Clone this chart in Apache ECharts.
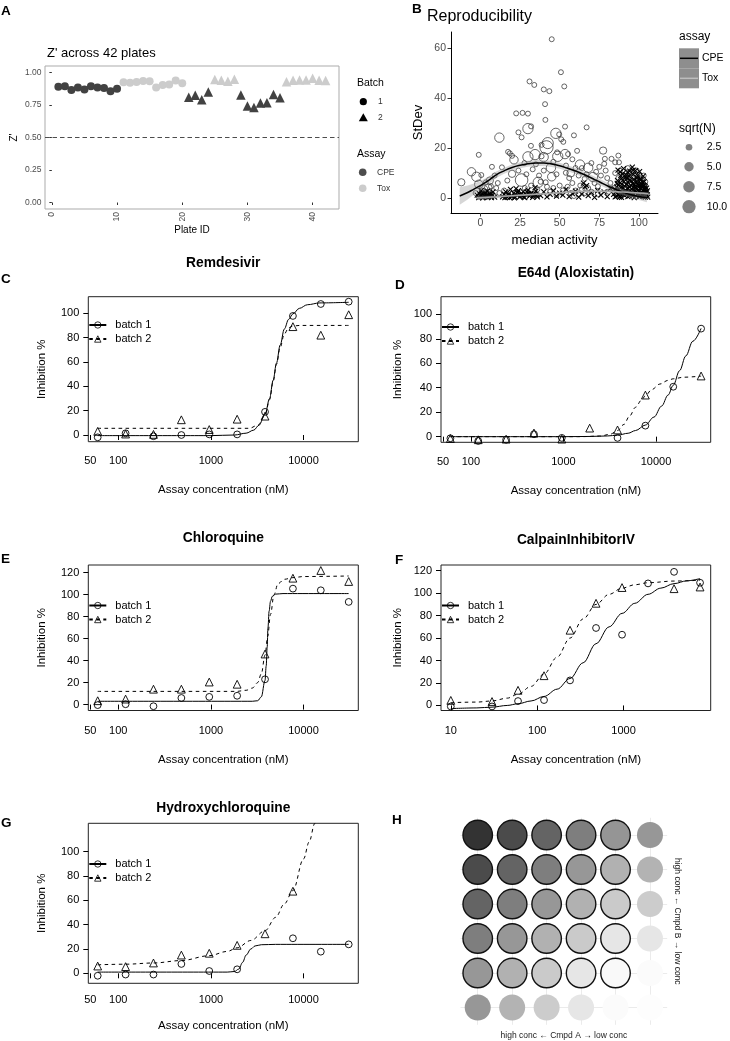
<!DOCTYPE html>
<html><head><meta charset="utf-8">
<script src="https://cdn.jsdelivr.net/npm/echarts@6.0.0/dist/echarts.min.js"></script>
<style>html,body{margin:0;padding:0;background:#fff}#c{width:730px;height:1041px}</style>
</head><body><div id="c"></div>
<script>
const FONT = "'Liberation Sans', Arial, Helvetica, sans-serif";

// ---------------- Panel A data ----------------
const plateId = [1,2,3,4,5,6,7,8,9,10,11,12,13,14,15,16,17,18,19,20,21,22,23,24,25,26,27,28,29,30,31,32,33,34,35,36,37,38,39,40,41,42];
const zPrime = [0.89,0.895,0.865,0.885,0.87,0.895,0.885,0.88,0.855,0.875,
  0.925,0.922,0.927,0.934,0.932,0.885,0.903,0.907,0.939,0.917,
  0.81,0.825,0.79,0.85, 0.947,0.94,0.932,0.948,
  0.827,0.742,0.731,0.765,0.768,0.83,0.806,
  0.928,0.94,0.942,0.942,0.955,0.94,0.938];
const plateBatch = [1,1,1,1,1,1,1,1,1,1,1,1,1,1,1,1,1,1,1,1,2,2,2,2,2,2,2,2,2,2,2,2,2,2,2,2,2,2,2,2,2,2];
const plateAssay = ['CPE','CPE','CPE','CPE','CPE','CPE','CPE','CPE','CPE','CPE',
  'Tox','Tox','Tox','Tox','Tox','Tox','Tox','Tox','Tox','Tox',
  'CPE','CPE','CPE','CPE','Tox','Tox','Tox','Tox',
  'CPE','CPE','CPE','CPE','CPE','CPE','CPE',
  'Tox','Tox','Tox','Tox','Tox','Tox','Tox'];
const zTicks = [0, 0.25, 0.5, 0.75, 1];
const plateTicks = [0, 10, 20, 30, 40];
const zThreshold = 0.5;

// ---------------- Panel B data ----------------
// CPE replicate points: [median activity, StDev, sqrt(N)]
const cpePoints = [
 [-12,6.3,3],[-5.6,10.5,4],[-2.5,8.5,5],[-1,5.5,4],[2,3.5,4],[5,4,3.5],[12,24.2,5],[26,7.2,9],[30,27.8,6],[47.6,25.9,6],
 [42.5,22,7],[41.7,20.3,10],[48.8,16.7,6],[34.5,17.4,6],[30,16.5,6],[21.2,15.3,4],[39.9,16.4,5],[44.5,12.1,5],[53.4,17.6,5],[62.8,13.4,5],
 [68,12.1,5],[71,8.4,5],[36.5,6.3,6],[45,8.5,4],[57,10,3.5],[77.4,19,3],[20,9.7,3],[6,7,3],
 [45,63.6,1.4],[50.8,50.4,1.4],[52.9,44.7,1.4],[31,46.7,1.4],[34,45.3,1.4],[40,43.5,1.4],[43.5,42.8,1.4],[40.8,37.6,1.4],[41,31.3,1.4],[53.4,28.6,1.4],
 [67,28.3,1.4],[22.6,33.9,1.4],[26.6,34.1,1.4],[30,33.8,1.4],[24,26.3,1.4],[32,28.7,1.4],[26,24.3,1.4],[-1,17.3,1.4],[18.6,17.9,1.4],[20,16.9,1.4],
 [17.5,18.5,1.4],[49.7,25.5,1.4],[51,23.5,1.4],[52.3,22.5,1.4],[59,25.1,1.4],[61,18.9,1.4],[48.4,18.3,1.4],[55.3,17.6,1.4],[38.6,21.3,1.4],[31.9,20.9,1.4],
 [38.6,16.7,1.4],[27.8,14,1.4],[78.1,13.7,1.4],[82.7,15.7,1.4],[87,17,1.4],[85,14.3,1.4],[87.4,14.3,1.4],[78.5,15.7,1.4],[75,12.5,1.4],[99,8.4,1.4],
 [98.6,11,1.4],[95,10,1.4],[93,12,1.4],[0.6,9.2,1.4],[3.5,6.3,1.4],[6.7,4.7,1.4],[7.3,12.5,1.4],[13.6,12.3,1.4],[24,11,1.4],[33,11.5,1.4],
 [37,9,1.4],[41.2,6.3,1.4],[48,9.5,1.4],[50,5,1.4],[53.9,10.1,1.4],[56,8,1.4],[58,6,1.4],[60,12,1.4],[63,5,1.4],[65.8,7.7,1.4],
 [67,9.5,1.4],[74.1,4.7,1.4],[72,6,1.4],[80,8,1.4],[82,6,1.4],[85,10,1.4],[88,11,1.4],[90,9,1.4],[92,7,1.4],[96,8.5,1.4],
 [100,9.5,1.4],[102,7,1.4],[104,5,1.4],[28,4,1.4],[32,5,1.4],[36,3.5,1.4],[38,6.5,1.4],[42,4.5,1.4],[44,2.5,1.4],[46,4,1.4],
 [52,3,1.4],[55,4.5,1.4],[57,2,1.4],[60,3,1.4],[62,1.5,1.4],[64,3.5,1.4],[66,2,1.4],[68,4,1.4],[70,2.5,1.4],[15,3,1.4],
 [12,2,1.4],[10,4,1.4],[8,1,1.4],[5,2.5,1.4],[2,1.5,1.4],[1,3,1.4],[-1,0.5,1.4],[35,13.5,1.4],[46,14.5,1.4],[58,15.5,1.4],
 [64,12,1.4],[70,14,1.4],[73,10.5,1.4],[76,9,1.4],[79,11,1.4],[62,9,1.4],[54,13,1.4],[40,11,1.4],[29,9.5,1.4],[17,7,1.4],
 [11,6,1.4],[9,9,1.4],[-3,2,1.4],[0,1,1.4],[4,0.5,1.4],[16,1.2,1.4],[22,2.2,1.4],[26,1,1.4],[34,1.8,1.4],[48,1.2,1.4],
 [59,0.8,1.4],[74,1.5,1.4],[81,2.5,1.4],[84,4,1.4],[97,3,1.4],[103,2,1.4],[86,3,1.4],[88,5,1.4],[90,2,1.4],[92,4,1.4],
 [94,6,1.4],[96,3,1.4],[98,5,1.4],[100,1.5,1.4],[102,3.5,1.4],[104,6.5,1.4],[87,8,1.4],[91,7,1.4],[95,9,1.4],[99,7,1.4],[103,9,1.4]
];
// Tox replicate points: [median activity, StDev]
const toxPoints = [
 [-1,0.2],[0,0.8],[1,1.5],[2,0.3],[3,2.2],[4,1],[5,0.5],[6,1.8],[7,0.2],[8,2.5],[0.5,3],[2.5,1.2],[4.5,2.8],[6.5,0.8],
 [-0.5,1.8],[1.5,0.1],[3.5,0.6],[5.5,1.4],[7.5,1.1],[9,0.4],[-2,1.2],
 [14,0.5],[15,1.5],[16,2.5],[17,0.3],[18,1.8],[19,3.5],[20,0.8],[21,2],[22,0.4],[23,1.2],[24,3],[25,0.6],[26,1.8],[27,2.6],
 [28,0.2],[29,1.4],[30,3.2],[31,0.8],[32,2],[33,0.3],[34,1.6],[35,2.8],[36,0.5],[18.5,0.2],[22.5,3.8],[26.5,0.9],[30.5,1.9],[34.5,4.2],
 [15.5,0.2],[17.5,1.1],[19.5,0.6],[21.5,0.1],[23.5,2.3],[25.5,1.4],[27.5,0.4],[29.5,2.4],[31.5,1.3],[33.5,0.9],[35.5,1.2],
 [38,1],[40,2.5],[42,0.5],[44,1.5],[46,3],[48,0.8],[50,2],[52,1.2],[54,3.5],[56,0.6],[58,1.8],[60,2.8],[62,0.4],[64,1.6],
 [66,4.5],[68,1],[70,2.2],[72,0.3],[74,3],[76,1.2],[78,2.5],[80,0.6],[82,3.8],[84,1.5],[65,6],[67,5],
 [85,0.5],[85.5,2.5],[86,4.5],[86.5,7],[87,1.2],[87.5,3.5],[88,6],[88.5,9],[89,0.3],[89.5,2],[90,4],[90.5,6.5],[91,1],[91.5,3],
 [92,5.5],[92.5,8],[93,0.6],[93.5,2.4],[94,4.6],[94.5,7.2],[95,1.4],[95.5,3.6],[96,5.8],[96.5,9.5],[97,0.2],[97.5,2.8],[98,4.2],[98.5,6.8],
 [99,1.6],[99.5,3.2],[100,5.2],[100.5,7.6],[101,0.8],[101.5,2.2],[102,4.4],[102.5,6.2],[103,1.8],[103.5,3.8],[104,0.4],[104.5,2.6],[105,1.2],
 [86,0.8],[88,2.2],[90,1.6],[92,2.8],[94,0.9],[96,2],[98,1],[100,2.6],[102,1.4],[104,3.2],[87,5.2],[89,7.8],[91,4.8],[93,6.4],
 [95,5],[97,7.4],[99,5.6],[101,6],[103,5],[88.2,10.5],[90.3,11.8],[94.2,10.8],[97.8,11],[91.7,9.4],[99.2,9],[102.7,8.8],[86.8,11.2],[95.8,12.4],
 [85.2,3.4],[86.3,5.9],[87.8,0.4],[88.7,4.1],[89.3,5.6],[90.8,2.8],[91.3,8.2],[92.2,1.6],[93.2,3.9],[93.8,8.8],[94.7,2.1],[95.2,6.8],
 [96.2,1.1],[96.8,4.3],[97.3,5.4],[98.3,2.5],[98.8,8.1],[99.7,4.3],[100.2,0.6],[100.8,3.9],[101.3,7.4],[101.8,5.1],[102.3,0.9],[102.8,3],
 [103.3,6.6],[103.8,4.6],[104.3,1.8],[104.8,4],[105.3,2.9],[105.5,0.4],[89.8,9.8],[92.8,10.4],[96.3,11.2],[100.4,10.6]
];
// smooth fits
const cpeFitX = [-13,-8,-4,0,5,10,15,20,25,30,35,40,45,50,55,60,65,70,75,80,85,90,95,100,105];
const cpeFit  = [0.8,2.2,3.6,5.0,7.0,9.3,10.9,12.2,13.1,13.7,14.0,14.0,13.6,12.9,11.9,10.8,9.5,8.0,6.5,4.9,3.6,2.3,1.3,0.6,0.1];
const cpeLo   = [-2.7,-0.6,1.4,3.2,5.5,8.0,9.7,11.0,11.9,12.5,12.8,12.8,12.4,11.7,10.7,9.6,8.3,6.8,5.3,3.7,2.4,1.1,0.1,-0.8,-1.7];
const cpeHi   = [4.3,5.0,5.8,6.8,8.5,10.6,12.1,13.4,14.3,14.9,15.2,15.2,14.8,14.1,13.1,12.0,10.7,9.2,7.7,6.1,4.8,3.5,2.5,2.0,1.9];
const toxFitX = [-2,5,10,20,30,40,50,60,70,80,90,100,106];
const toxFit  = [0.0,0.3,0.5,0.9,1.3,1.7,2.1,2.5,2.7,2.7,2.4,2.0,1.7];
const toxLo   = [-0.8,-0.3,0.0,0.5,0.9,1.3,1.7,2.1,2.3,2.3,2.1,1.7,1.2];
const toxHi   = [0.8,0.9,1.0,1.3,1.7,2.1,2.5,2.9,3.1,3.1,2.7,2.3,2.2];
const activityTicks = [0, 25, 50, 75, 100];
const stdevTicks = [0, 20, 40, 60];
const sqrtNKeys = [2.5, 5.0, 7.5, 10.0];

// ---------------- Panels C-G data ----------------
const concStd  = [60,120,240,480,960,1920,3840,7680,15360,30720];
const concCalp = [10,30,60,120,240,480,960,1920,3840,7680];
const remB1 = [-1.9,1.4,-1,0,0.5,0.5,19,97.8,107.6,109.5];
const remB2 = [3,0.8,0.5,12.5,4.5,13,15.5,89,82,98.8];
const e64B1 = [-1.3,-3.5,-2.5,2,-1,null,-1,9,40.8,88.3];
const e64B2 = [-1.5,-2.5,-2,3,-2,7,5.5,34,null,49.6];
const chlB1 = [-0.5,0.3,-1.5,6,7,8,23,105.5,104,93.4];
const chlB2 = [3.5,5,14,14,20.5,18.5,46,115,122,112];
const calB1 = [-0.9,-0.9,3.9,4.8,22.3,69,63,108.7,119,109.3];
const calB2 = [4.5,3.5,13.5,26.5,67,91,105,null,104,105.5];
const hcqB1 = [-2,-1,-1,7.7,1.9,3.3,null,28.8,17.8,23.8];
const hcqB2 = [6,5.5,8.5,15,16.5,23,32.5,67.5,null,null];

const remFit1 = [[60,-0.5],[1000,-0.5],[1800,0],[2400,1.5],[2900,4],[3300,8],[3840,17],[4300,30],[4700,45],[5100,59],[5600,74],[6200,87],[6900,95],[7680,99.5],[9000,104],[11000,107],[15000,108.5],[30720,109]];
const remFit2 = [[60,5.5],[2600,5.5],[3200,8],[3840,16],[4300,29],[4700,44],[5100,58],[5600,72],[6200,83],[6900,88],[7680,89.5],[9000,90],[30720,90]];
const e64Fit1 = [[60,0],[1000,0],[2000,0.2],[3000,0.6],[3840,1.2],[5000,2.8],[6000,5],[7680,9.5],[9500,16],[11500,25],[13500,34],[15360,42],[18000,54],[21000,66],[25000,78],[30720,88.5]];
const e64Fit2 = [[60,0],[1500,0],[2500,0.5],[3200,2],[3840,5],[4500,10],[5200,17],[6000,24],[7000,30],[7680,33.5],[9000,38.5],[11000,43],[13500,46],[15360,47.3],[20000,48.6],[30720,49.5]];
const chlFit1 = [[60,3],[2800,3],[3200,3.5],[3500,7],[3840,22],[3950,35],[4050,52],[4130,70],[4250,85],[4400,94],[4600,98.5],[5000,100.5],[6000,101],[30720,101]];
const chlFit2 = [[60,12],[1900,12],[2400,13],[2800,15],[3200,20],[3500,28],[3840,45],[4100,62],[4400,82],[4800,100],[5300,110],[6200,114],[7680,115.5],[10000,116.5],[30720,117]];
const calFit1 = [[10,-2.8],[20,-2.2],[30,-1.5],[45,0],[60,1.5],[85,4],[120,8],[170,14.5],[240,24],[340,38],[480,55],[680,70],[960,82],[1350,91],[1920,99],[2700,104.5],[3840,108.5],[5400,111],[7680,113]];
const calFit2 = [[10,2.5],[20,3],[30,4],[45,6.5],[60,10],[85,17],[120,28],[170,43],[240,60],[340,77],[480,90],[680,99],[960,104.5],[1350,107.5],[1920,109.3],[3840,110.8],[7680,111.5]];
const hcqFit1 = [[60,1],[1500,1],[1800,1.5],[2000,3.5],[2200,9],[2400,15],[2700,20],[3000,22.5],[3500,23.5],[5000,23.8],[30720,23.8]];
const hcqFit2 = [[60,7],[120,7.5],[240,8.5],[480,10.5],[960,14.5],[1500,18],[1920,21],[2700,27],[3840,35],[5000,46],[6200,57],[7680,68],[10000,94],[11500,108],[13200,123],[14000,130]];
const concTicksStd = [50, 100, 1000, 10000];
const concTicksCalp = [10, 100, 1000];
const inhTicks100 = [0, 20, 40, 60, 80, 100];
const inhTicks120 = [0, 20, 40, 60, 80, 100, 120];

// ---------------- Panel H data (combination matrix, % effect) ----------------
const comboEffect = [
 [96,85,73,61,50,49],
 [85,73,61,49,37,36],
 [73,61,49,37,25,24],
 [61,49,37,25,12,12],
 [49,37,25,12,3,2],
 [49,36,24,12,2,1]
];

// ================= build =================
const grids = [
 {left:45, top:66, width:294, height:143, show:true, borderColor:'#ababab', borderWidth:1},   // A
 {left:451, top:32, width:207, height:181},                                                   // B
 {left:88.3, top:296.7, width:270, height:145, show:true, borderColor:'#222', borderWidth:1}, // C
 {left:441, top:296.7, width:269.7, height:145.6, show:true, borderColor:'#222', borderWidth:1}, // D
 {left:88.3, top:565, width:270, height:145.5, show:true, borderColor:'#222', borderWidth:1}, // E
 {left:441, top:565, width:269.7, height:145.5, show:true, borderColor:'#222', borderWidth:1}, // F
 {left:88.3, top:823.3, width:270, height:160, show:true, borderColor:'#222', borderWidth:1}, // G
 {left:460.5, top:817.8, width:206.7, height:207}                                            // H
];
const xAxes = [], yAxes = [], series = [], legends = [];

// ---- A
xAxes.push({gridIndex:0, type:'value', min:-1.05, max:44.05,
  axisLine:{show:false}, splitLine:{show:false},
  axisTick:{show:true, length:2.5, lineStyle:{color:'#333'}, customValues:plateTicks},
  axisLabel:{customValues:plateTicks, rotate:90, margin:3, color:'#4d4d4d', fontSize:8.5, fontFamily:FONT},
  name:'Plate ID', nameLocation:'middle', nameGap:16, nameTextStyle:{fontSize:10, fontFamily:FONT, color:'#000'}});
yAxes.push({gridIndex:0, type:'value', min:-0.05, max:1.05,
  axisLine:{show:false}, splitLine:{show:false},
  axisTick:{show:true, length:2.5, lineStyle:{color:'#333'}, customValues:zTicks},
  axisLabel:{customValues:zTicks, margin:3.5, color:'#4d4d4d', fontSize:8.5, fontFamily:FONT, formatter:v=>v.toFixed(2)},
  name:"Z'", nameLocation:'middle', nameRotate:90, nameGap:26, nameTextStyle:{fontSize:10, fontFamily:FONT, color:'#000'}});
[[1,'CPE'],[1,'Tox'],[2,'CPE'],[2,'Tox']].forEach(([b,a], k) => {
  const data = [];
  plateId.forEach((p,i) => { if (plateBatch[i]===b && plateAssay[i]===a) data.push([p, zPrime[i]]); });
  const s = {type:'scatter', xAxisIndex:0, yAxisIndex:0, data, silent:true,
    symbol: b===1 ? 'circle' : 'triangle', symbolSize: b===1 ? 8 : 9.5,
    itemStyle:{color: a==='CPE' ? '#424242' : '#cccccc', opacity:1}};
  if (k===0) s.markLine = {silent:true, symbol:['none','none'], label:{show:false},
    lineStyle:{color:'#4d4d4d', type:[4.5,3], width:1.2}, data:[{yAxis:zThreshold}]};
  series.push(s);
});

// ---- B
const sizeOf = v => 4.2*Math.sqrt(v);
xAxes.push({gridIndex:1, type:'value', min:-18.5, max:112,
  axisLine:{show:true, onZero:false, lineStyle:{color:'#000', width:1}}, splitLine:{show:false},
  axisTick:{show:true, length:3.5, lineStyle:{color:'#333'}, customValues:activityTicks},
  axisLabel:{customValues:activityTicks, margin:5, color:'#4d4d4d', fontSize:10.5, fontFamily:FONT},
  name:'median activity', nameLocation:'middle', nameGap:21, nameTextStyle:{fontSize:13, fontFamily:FONT, color:'#000'}});
yAxes.push({gridIndex:1, type:'value', min:-6, max:66.5,
  axisLine:{show:true, onZero:false, lineStyle:{color:'#000', width:1}}, splitLine:{show:false},
  axisTick:{show:true, length:3.5, lineStyle:{color:'#333'}, customValues:stdevTicks},
  axisLabel:{customValues:stdevTicks, margin:5, color:'#4d4d4d', fontSize:10.5, fontFamily:FONT},
  name:'StDev', nameLocation:'middle', nameRotate:90, nameGap:26, nameTextStyle:{fontSize:13, fontFamily:FONT, color:'#000'}});
series.push({type:'scatter', xAxisIndex:1, yAxisIndex:1, silent:true, data:cpePoints,
  symbol:'circle', symbolSize: v => sizeOf(v[2]),
  itemStyle:{color:'rgba(0,0,0,0)', borderColor:'#333', borderWidth:0.75, opacity:1}});
series.push({type:'scatter', xAxisIndex:1, yAxisIndex:1, silent:true, data:toxPoints,
  symbol:'path://M0,0L10,10M10,0L0,10', symbolSize:5,
  itemStyle:{color:'rgba(0,0,0,0)', borderColor:'#000', borderWidth:1.1, opacity:1}});
function ribbon(xs, lo, hi) {
  series.push({type:'custom', xAxisIndex:1, yAxisIndex:1, silent:true, z:3,
    data: xs.map((x,i)=>[x, lo[i], hi[i]]), encode:{x:0, y:[1,2]},
    renderItem: (params, api) => {
      if (params.dataIndex !== 0) return null;
      const pts = [];
      for (let i = 0; i < xs.length; i++) pts.push(api.coord([xs[i], hi[i]]));
      for (let i = xs.length-1; i >= 0; i--) pts.push(api.coord([xs[i], lo[i]]));
      return {type:'polygon', shape:{points:pts}, style:{fill:'rgba(153,153,153,0.4)'}};
    }});
}
ribbon(cpeFitX, cpeLo, cpeHi);
ribbon(toxFitX, toxLo, toxHi);
series.push({type:'line', xAxisIndex:1, yAxisIndex:1, silent:true, z:4, data:cpeFitX.map((x,i)=>[x,cpeFit[i]]),
  symbol:'none', smooth:true, lineStyle:{color:'#000', width:1.5}});
series.push({type:'line', xAxisIndex:1, yAxisIndex:1, silent:true, z:4, data:toxFitX.map((x,i)=>[x,toxFit[i]]),
  symbol:'none', smooth:true, lineStyle:{color:'#a8a8a8', width:1.5}});

// ---- C-G (base R style dose-response panels)
const panels = [
 {g:2, conc:concStd,  b1:remB1, b2:remB2, f1:remFit1, f2:remFit2, xmin:47.5, xmax:39000, xt:concTicksStd,  ymin:-5.5, ymax:113.6, yt:inhTicks100, yGap:40, xGap:42.5, lm:14, legTop:319.5},
 {g:3, conc:concStd,  b1:e64B1, b2:e64B2, f1:e64Fit1, f2:e64Fit2, xmin:47.5, xmax:39000, xt:concTicksStd,  ymin:-4.6, ymax:114.4, yt:inhTicks100, yGap:37, xGap:42.5, lm:14, legTop:321.5},
 {g:4, conc:concStd,  b1:chlB1, b2:chlB2, f1:chlFit1, f2:chlFit2, xmin:47.5, xmax:39000, xt:concTicksStd,  ymin:-5.4, ymax:127,   yt:inhTicks120, yGap:40, xGap:43.5, lm:15, legTop:600},
 {g:5, conc:concCalp, b1:calB1, b2:calB2, f1:calFit1, f2:calFit2, xmin:7.7,  xmax:10200, xt:concTicksCalp, ymin:-4.5, ymax:125.1, yt:inhTicks120, yGap:37, xGap:43.5, lm:15, legTop:600},
 {g:6, conc:concStd,  b1:hcqB1, b2:hcqB2, f1:hcqFit1, f2:hcqFit2, xmin:47.5, xmax:39000, xt:concTicksStd,  ymin:-8.2, ymax:123.3, yt:inhTicks100, yGap:40, xGap:37,   lm:11, legTop:858.5}
];
const ptStyle = {color:'rgba(0,0,0,0)', borderColor:'#000', borderWidth:0.9, opacity:1};
panels.forEach(p => {
  xAxes.push({gridIndex:p.g, type:'log', logBase:10, min:p.xmin, max:p.xmax,
    axisLine:{show:false}, splitLine:{show:false}, minorTick:{show:false},
    axisTick:{show:true, length:5, lineStyle:{color:'#000'}, customValues:p.xt},
    axisLabel:{customValues:p.xt, margin:p.lm, color:'#000', fontSize:11, fontFamily:FONT, formatter:v=>String(Math.round(v))},
    name:'Assay concentration (nM)', nameLocation:'middle', nameGap:p.xGap, nameTextStyle:{fontSize:11.5, fontFamily:FONT, color:'#000'}});
  yAxes.push({gridIndex:p.g, type:'value', min:p.ymin, max:p.ymax,
    axisLine:{show:false}, splitLine:{show:false},
    axisTick:{show:true, length:5, lineStyle:{color:'#000'}, customValues:p.yt},
    axisLabel:{customValues:p.yt, margin:9, color:'#000', fontSize:11, fontFamily:FONT},
    name:'Inhibition %', nameLocation:'middle', nameRotate:90, nameGap:p.yGap, nameTextStyle:{fontSize:11.5, fontFamily:FONT, color:'#000'}});
  const pts1 = [], pts2 = [];
  p.conc.forEach((c,i) => { if (p.b1[i] !== null) pts1.push([c, p.b1[i]]); if (p.b2[i] !== null) pts2.push([c, p.b2[i]]); });
  series.push({type:'scatter', xAxisIndex:p.g, yAxisIndex:p.g, silent:true, data:pts1, symbol:'circle', symbolSize:6.8, itemStyle:ptStyle});
  series.push({type:'scatter', xAxisIndex:p.g, yAxisIndex:p.g, silent:true, data:pts2, symbol:'triangle', symbolSize:7.8, itemStyle:ptStyle});
  series.push({type:'line', name:'batch 1', xAxisIndex:p.g, yAxisIndex:p.g, silent:true, data:p.f1, smooth:0.35, smoothMonotone:'x',
    symbol:'circle', showSymbol:false, itemStyle:ptStyle, lineStyle:{color:'#000', width:1}, clip:true});
  series.push({type:'line', name:'batch 2', xAxisIndex:p.g, yAxisIndex:p.g, silent:true, data:p.f2, smooth:0.35, smoothMonotone:'x',
    symbol:'triangle', showSymbol:false, itemStyle:ptStyle, lineStyle:{color:'#000', width:1, type:[3.5,3.5]}, clip:true});
  legends.push({data:['batch 1','batch 2'], left:grids[p.g].left, top:p.legTop, orient:'vertical', padding:0,
    itemWidth:17, itemHeight:8, itemGap:3, selectedMode:false,
    itemStyle:{color:'rgba(0,0,0,0)', borderColor:'#000', borderWidth:0.8},
    textStyle:{fontSize:11, fontFamily:FONT, color:'#000', padding:[0,0,0,4]}});
});

// ---- H
xAxes.push({gridIndex:7, type:'value', min:0.5, max:6.5, axisLine:{show:false}, axisTick:{show:false}, axisLabel:{show:false}, splitLine:{show:false},
  name:'high conc \u2190 Cmpd A \u2192 low conc', nameLocation:'middle', nameGap:6, nameTextStyle:{fontSize:8.5, fontFamily:FONT, color:'#222'}});
yAxes.push({gridIndex:7, type:'value', min:0.5, max:6.5, inverse:true, position:'right', axisLine:{show:false}, axisTick:{show:false}, axisLabel:{show:false}, splitLine:{show:false},
  name:'high conc \u2190 Cmpd B \u2192 low conc', nameLocation:'middle', nameRotate:-90, nameGap:6, nameTextStyle:{fontSize:8.5, fontFamily:FONT, color:'#222'}});
const hOutlined = [], hPlain = [];
comboEffect.forEach((row, r) => row.forEach((v, c) => {
  (r < 5 && c < 5 ? hOutlined : hPlain).push([c+1, r+1, v]);
}));
const gridLineData = [1,2,3,4,5,6].map(v=>({xAxis:v})).concat([1,2,3,4,5,6].map(v=>({yAxis:v})));
const hIdx1 = series.length;
series.push({type:'scatter', xAxisIndex:7, yAxisIndex:7, silent:true, z:3, data:hPlain, symbol:'circle', symbolSize:26,
  itemStyle:{opacity:1},
  markLine:{silent:true, z:1, symbol:['none','none'], label:{show:false}, lineStyle:{color:'#ebebeb', type:'solid', width:1}, data:gridLineData}});
const hIdx2 = series.length;
series.push({type:'scatter', xAxisIndex:7, yAxisIndex:7, silent:true, z:3, data:hOutlined, symbol:'circle', symbolSize:29.5,
  itemStyle:{borderColor:'#111', borderWidth:1.4, opacity:1}});

// ---- graphic: panel letters, titles, legends for A & B
function T(x, y, s, size, o) {
  o = o || {};
  return {type:'text', x, y, rotation:o.rot||0, silent:true,
    style:{text:s, fontSize:size, fontFamily:FONT, fontWeight:o.bold?'bold':'normal', fill:o.fill||'#000',
      align:o.align||'left', verticalAlign:'middle'}};
}
const graphic = [
  T(1,11,'A',13.5,{bold:true}), T(412,9,'B',13.5,{bold:true}),
  T(1,279,'C',13.5,{bold:true}), T(395,285,'D',13.5,{bold:true}),
  T(1,559,'E',13.5,{bold:true}), T(395,560,'F',13.5,{bold:true}),
  T(1,823,'G',13.5,{bold:true}), T(392,820,'H',13.5,{bold:true}),
  T(47,53,"Z' across 42 plates",13),
  T(427,17,'Reproducibility',16),
  T(223.3,263,'Remdesivir',13.8,{bold:true,align:'center'}),
  T(575.9,273,'E64d (Aloxistatin)',13.8,{bold:true,align:'center'}),
  T(223.3,538,'Chloroquine',13.8,{bold:true,align:'center'}),
  T(575.9,540,'CalpainInhibitorIV',13.8,{bold:true,align:'center'}),
  T(223.3,808,'Hydroxychloroquine',13.8,{bold:true,align:'center'}),
  // legend A
  T(357,83,'Batch',10.5),
  {type:'circle', shape:{cx:363.3, cy:101.7, r:3.6}, style:{fill:'#000'}, silent:true},
  T(378,102,'1',8.5,{fill:'#333'}),
  {type:'polygon', shape:{points:[[363.3,113.3],[358.8,121.2],[367.8,121.2]]}, style:{fill:'#000'}, silent:true},
  T(378,118,'2',8.5,{fill:'#333'}),
  T(357,154,'Assay',10.5),
  {type:'circle', shape:{cx:362.7, cy:172.3, r:3.8}, style:{fill:'#4d4d4d'}, silent:true},
  T(377,172.3,'CPE',8.5,{fill:'#333'}),
  {type:'circle', shape:{cx:362.7, cy:188.3, r:3.8}, style:{fill:'#cccccc'}, silent:true},
  T(377,188.3,'Tox',8.5,{fill:'#333'}),
  // legend B
  T(679,37,'assay',12),
  {type:'rect', shape:{x:679, y:48.3, width:20, height:20}, style:{fill:'#8e8e8e'}, silent:true},
  {type:'rect', shape:{x:679, y:68.3, width:20, height:20}, style:{fill:'#8e8e8e'}, silent:true},
  {type:'line', shape:{x1:680, y1:58.3, x2:698, y2:58.3}, style:{stroke:'#000', lineWidth:1.5}, silent:true},
  {type:'line', shape:{x1:680, y1:78.3, x2:698, y2:78.3}, style:{stroke:'#bdbdbd', lineWidth:1.5}, silent:true},
  T(702,58.3,'CPE',10.5), T(702,78.3,'Tox',10.5),
  T(679,128.3,'sqrt(N)',12)
];
const keyY = [147.3, 166.7, 186.7, 206.7];
sqrtNKeys.forEach((v,i) => {
  graphic.push({type:'circle', shape:{cx:689, cy:keyY[i], r:sizeOf(v)/2}, style:{fill:'#808080'}, silent:true});
  graphic.push(T(706.7, keyY[i], v.toFixed(1), 10.5));
});

const chart = echarts.init(document.getElementById('c'), null, {renderer:'canvas'});
chart.setOption({
  animation:false, backgroundColor:'#fff',
  grid:grids, xAxis:xAxes, yAxis:yAxes, series, legend:legends, graphic,
  visualMap:[{type:'continuous', show:false, min:0, max:100, dimension:2, seriesIndex:[hIdx1,hIdx2],
    inRange:{color:['#ffffff','#2b2b2b']}}]
});
</script></body></html>
